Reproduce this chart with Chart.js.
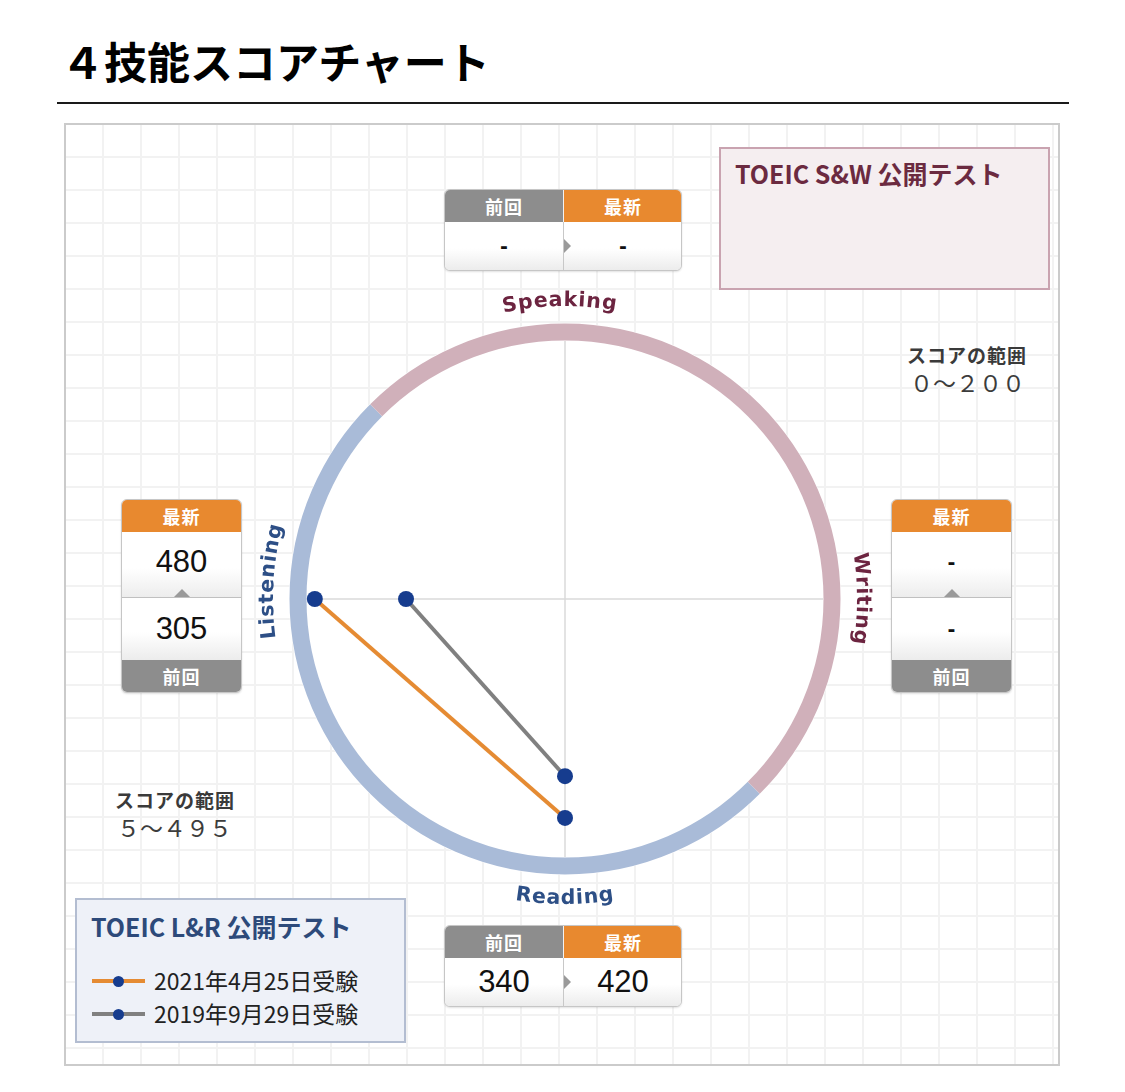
<!DOCTYPE html>
<html><head><meta charset="utf-8">
<script src="https://cdn.jsdelivr.net/npm/chart.js@4.4.0/dist/chart.umd.min.js"></script>
<style>
html,body{margin:0;padding:0;background:#fff;}
body{width:1125px;height:1092px;position:relative;overflow:hidden;font-family:'Noto Sans CJK JP','Noto Sans',sans-serif;}
.abs{position:absolute;}
#title{left:61px;top:36px;font-size:43px;line-height:48px;font-weight:bold;color:#000;white-space:nowrap;}
#rule{left:57px;top:102px;width:1012px;height:2px;background:#1a1a1a;}
#panel{left:64px;top:123px;width:996px;height:943px;box-sizing:border-box;border:2px solid #cbcbcb;background-color:#fff;
 background-image:linear-gradient(to right,#f2f2f2 2px,transparent 2px),linear-gradient(to bottom,#f2f2f2 2px,transparent 2px);
 background-size:38px 33px;background-position:36px 31px;}
#chartWrap{left:265px;top:299px;width:600px;height:600px;}
#labels{left:0;top:0;width:1125px;height:1092px;pointer-events:none;}
.sbox{position:absolute;border:1px solid #c6c6c6;border-radius:6px;overflow:hidden;background:#fff;box-shadow:0 1px 2px rgba(0,0,0,0.12);box-sizing:border-box;}
.hd{position:absolute;height:32px;line-height:32px;color:#fff;font-weight:bold;font-size:18px;text-align:center;letter-spacing:1px;}
.grey{background:#8d8d8d;}
.orange{background:#e8892f;}
.cell{position:absolute;text-align:center;background:linear-gradient(#ffffff 55%,#ececec);font-family:'Liberation Sans',Arial,sans-serif;font-size:31px;color:#111;}
.dash{font-family:'DejaVu Sans',sans-serif;font-weight:bold;font-size:19px;}
.tri-r{position:absolute;width:0;height:0;border-top:7px solid transparent;border-bottom:7px solid transparent;border-left:7px solid #9a9a9a;}
.tri-u{position:absolute;width:0;height:0;border-left:8px solid transparent;border-right:8px solid transparent;border-bottom:8px solid #9a9a9a;}
#swBox{left:719px;top:147px;width:331px;height:143px;box-sizing:border-box;border:2px solid #c9a3b0;background:#f5eef0;}
#swTitle{left:735px;top:156px;font-size:25px;line-height:34px;font-weight:bold;color:#6b2a40;letter-spacing:0px;white-space:nowrap;}
.rangeHd{font-size:19px;line-height:24px;font-weight:bold;color:#3a3a3a;white-space:nowrap;letter-spacing:1px;}
.rangeVal{font-size:23px;line-height:28px;color:#3c3c3c;white-space:nowrap;}
#legend{left:75px;top:898px;width:331px;height:145px;box-sizing:border-box;border:2px solid #b3bdd1;background:#eef1f8;}
#lrTitle{left:91px;top:909px;font-size:25px;line-height:34px;font-weight:bold;color:#2d4a7a;letter-spacing:0px;white-space:nowrap;}
.lgLine{position:absolute;width:53px;height:4px;}
.lgDot{position:absolute;width:11px;height:11px;border-radius:50%;background:#163c8e;}
.lgText{position:absolute;font-size:23px;line-height:30px;color:#222;white-space:nowrap;}
</style></head>
<body>
<div id="title" class="abs">４技能スコアチャート</div>
<div id="rule" class="abs"></div>
<div id="panel" class="abs"></div>
<div id="swBox" class="abs"></div>
<div id="swTitle" class="abs">TOEIC S&amp;W 公開テスト</div>
<div class="abs rangeHd" style="left:907px;top:343px;">スコアの範囲</div>
<div id="swRange" class="abs rangeVal" style="left:910px;top:368px;"></div>
<div class="abs rangeHd" style="left:115px;top:788px;">スコアの範囲</div>
<div id="lrRange" class="abs rangeVal" style="left:117px;top:813px;"></div>
<div id="legend" class="abs"></div>
<div id="lrTitle" class="abs">TOEIC L&amp;R 公開テスト</div>
<div id="legendItems"></div>
<div id="boxes"></div>
<div id="chartWrap" class="abs"><canvas id="c" width="600" height="600"></canvas></div>
<svg id="labels" class="abs" xmlns="http://www.w3.org/2000/svg" width="1125" height="1092"></svg>
<script>
// ---- data ----
const axes = ['Speaking', 'Writing', 'Reading', 'Listening'];
const latestScores = [null, null, 420, 480];    // 2021年4月25日受験
const previousScores = [null, null, 340, 305];  // 2019年9月29日受験
const seriesNames = ['2021年4月25日受験', '2019年9月29日受験'];
const scaleMin = 0;
const scaleMax = 495;
const lrRangeText = '５～４９５';
const swRangeText = '０～２００';
const headerLatest = '最新';
const headerPrevious = '前回';

document.getElementById('lrRange').textContent = lrRangeText;
document.getElementById('swRange').textContent = swRangeText;

// ---- score boxes ----
const fmt = v => (v === null || v === undefined) ? '-' : String(v);
const boxesEl = document.getElementById('boxes');
function hBox(idx, left, top) {
  const b = document.createElement('div');
  b.className = 'sbox';
  b.style.cssText = `left:${left}px;top:${top}px;width:238px;height:82px;`;
  const p = fmt(previousScores[idx]), l = fmt(latestScores[idx]);
  b.innerHTML =
    `<div class="hd grey" style="left:0;top:0;width:118px;">${headerPrevious}</div>` +
    `<div class="hd orange" style="left:119px;top:0;width:118px;">${headerLatest}</div>` +
    `<div style="position:absolute;left:118px;top:0;width:1px;height:32px;background:#f2f2f2"></div>` +
    `<div class="cell${p==='-'?' dash':''}" style="left:0;top:32px;width:118px;height:48px;line-height:48px;">${p}</div>` +
    `<div class="cell${l==='-'?' dash':''}" style="left:119px;top:32px;width:118px;height:48px;line-height:48px;">${l}</div>` +
    `<div style="position:absolute;left:118px;top:32px;width:1px;height:48px;background:#c8c8c8"></div>` +
    `<div class="tri-r" style="left:119px;top:49px;"></div>`;
  boxesEl.appendChild(b);
}
function vBox(idx, left, top) {
  const b = document.createElement('div');
  b.className = 'sbox';
  b.style.cssText = `left:${left}px;top:${top}px;width:121px;height:194px;`;
  const p = fmt(previousScores[idx]), l = fmt(latestScores[idx]);
  b.innerHTML =
    `<div class="hd orange" style="left:0;top:0;width:119px;">${headerLatest}</div>` +
    `<div class="cell${l==='-'?' dash':''}" style="left:0;top:32px;width:119px;height:66px;line-height:60px;">${l}</div>` +
    `<div style="position:absolute;left:0;top:97px;width:119px;height:1px;background:#c0c0c0"></div>` +
    `<div class="tri-u" style="left:52px;top:89px;"></div>` +
    `<div class="cell${p==='-'?' dash':''}" style="left:0;top:98px;width:119px;height:62px;line-height:62px;">${p}</div>` +
    `<div class="hd grey" style="left:0;top:160px;width:119px;">${headerPrevious}</div>`;
  boxesEl.appendChild(b);
}
hBox(0, 444, 189);   // Speaking
hBox(2, 444, 925);   // Reading
vBox(3, 121, 499);   // Listening
vBox(1, 891, 499);   // Writing

// ---- legend ----
const legendColors = ['#e58b33', '#808080'];
const lg = document.getElementById('legendItems');
seriesNames.forEach((name, i) => {
  const y = 981 + i * 33;
  lg.insertAdjacentHTML('beforeend',
    `<div class="lgLine" style="left:92px;top:${y-2}px;background:${legendColors[i]}"></div>` +
    `<div class="lgDot" style="left:113px;top:${y-5.5}px;"></div>` +
    `<div class="lgText" style="left:154px;top:${y-16}px;">${name}</div>`);
});

// ---- curved axis labels ----
const svg = document.getElementById('labels');
const NS = 'http://www.w3.org/2000/svg';
const CX = 565, CY = 599;
const labelDefs = [
  {i:0, r:293, mid:269, half:45, sweep:1, color:'#6c2440'},
  {i:1, r:292, mid:0, half:45, sweep:1, color:'#6c2440'},
  {i:2, r:305, mid:90, half:45, sweep:0, color:'#2d4f86'},
  {i:3, r:292, mid:183.5, half:45, sweep:1, color:'#2d4f86'}
];
const defs = document.createElementNS(NS, 'defs');
svg.appendChild(defs);
labelDefs.forEach((d, k) => {
  const rad = a => a * Math.PI / 180;
  const a0 = d.sweep ? d.mid - d.half : d.mid + d.half;
  const a1 = d.sweep ? d.mid + d.half : d.mid - d.half;
  const x0 = CX + d.r * Math.cos(rad(a0)), y0 = CY + d.r * Math.sin(rad(a0));
  const x1 = CX + d.r * Math.cos(rad(a1)), y1 = CY + d.r * Math.sin(rad(a1));
  const p = document.createElementNS(NS, 'path');
  p.setAttribute('id', 'lp' + k);
  p.setAttribute('d', `M ${x0} ${y0} A ${d.r} ${d.r} 0 0 ${d.sweep} ${x1} ${y1}`);
  defs.appendChild(p);
  const t = document.createElementNS(NS, 'text');
  t.setAttribute('font-family', 'DejaVu Sans');
  t.setAttribute('font-weight', 'bold');
  t.setAttribute('font-size', '20.5');
  t.setAttribute('fill', d.color);
  t.setAttribute('text-anchor', 'middle');
  t.style.letterSpacing = '0.8px';
  const tp = document.createElementNS(NS, 'textPath');
  tp.setAttribute('href', '#lp' + k);
  tp.setAttribute('startOffset', '50%');
  tp.textContent = axes[d.i];
  t.appendChild(tp);
  svg.appendChild(t);
});

// ---- chart ----
const ringPlugin = {
  id: 'ring',
  beforeDraw(chart) {
    const s = chart.scales.r, ctx = chart.ctx;
    const cx = s.xCenter, cy = s.yCenter, R = s.drawingArea;
    ctx.save();
    ctx.beginPath(); ctx.arc(cx, cy, R + 18, 0, Math.PI * 2); ctx.fillStyle = '#fff'; ctx.fill();
    ctx.lineWidth = 17;
    ctx.beginPath(); ctx.arc(cx, cy, R + 9, Math.PI / 4, Math.PI * 5 / 4, false);
    ctx.strokeStyle = '#a9bbd8'; ctx.stroke();
    ctx.beginPath(); ctx.arc(cx, cy, R + 9, Math.PI * 5 / 4, Math.PI * 9 / 4, false);
    ctx.strokeStyle = '#d0b0ba'; ctx.stroke();
    ctx.restore();
  }
};

new Chart(document.getElementById('c'), {
  type: 'radar',
  data: {
    labels: axes,
    datasets: [
      {label: seriesNames[1], data: previousScores, borderColor: '#808080', borderWidth: 4, fill: false,
       backgroundColor: 'transparent', pointRadius: 8, pointBackgroundColor: '#163c8e', pointBorderWidth: 0, spanGaps: false},
      {label: seriesNames[0], data: latestScores, borderColor: '#e58b33', borderWidth: 4, fill: false,
       backgroundColor: 'transparent', pointRadius: 8, pointBackgroundColor: '#163c8e', pointBorderWidth: 0, spanGaps: false}
    ]
  },
  options: {
    responsive: false,
    animation: false,
    layout: {padding: 42},
    plugins: {legend: {display: false}, tooltip: {enabled: false}},
    scales: {
      r: {
        min: scaleMin, max: scaleMax,
        ticks: {display: false},
        grid: {display: false},
        pointLabels: {display: false},
        angleLines: {display: true, color: '#dadada', lineWidth: 1.5}
      }
    }
  },
  plugins: [ringPlugin]
});
</script>
</body></html>
